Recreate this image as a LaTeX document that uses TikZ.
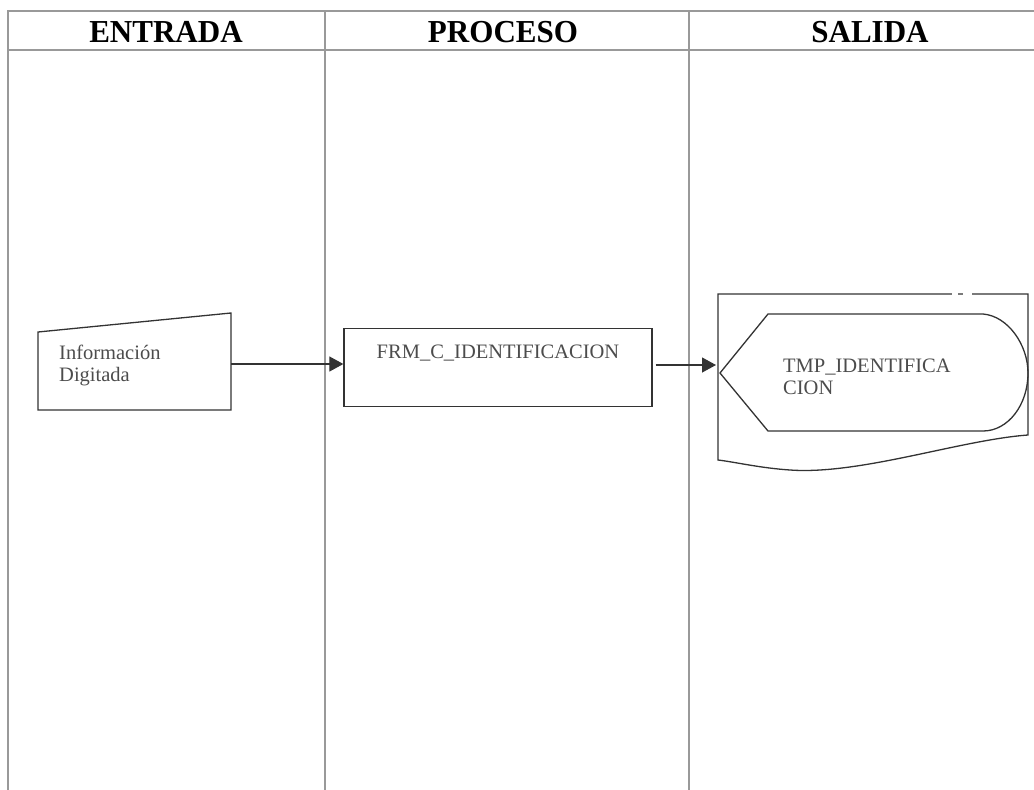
\documentclass[tikz,border=0pt]{standalone}
\usepackage{fontspec}
\setmainfont{Liberation Serif}
\usetikzlibrary{arrows.meta}
\begin{document}
\begin{tikzpicture}[x=1pt,y=-1pt,
  grid/.style={draw=black!40, line width=1.1pt},
  shapeline/.style={draw=black!80, line width=1.3pt},
  head/.style={font=\fontsize{32}{34}\selectfont\bfseries, text=black, inner sep=0pt},
  lbl/.style={font=\fontsize{20.5}{22}\selectfont, text=black!70, inner sep=0pt, align=left},
  conn/.style={draw=black!80, line width=1.2pt, -{Triangle[length=14pt,width=15pt]}}
]
\useasboundingbox (0,0) rectangle (1034,790);
% swimlane frame
\draw[grid] (1034,11) -- (8,11) -- (8,790);
\draw[grid] (8,50) -- (1034,50);
\draw[grid] (325,11) -- (325,790);
\draw[grid] (689,11) -- (689,790);
\node[head] (h1) at (166,32) {\scalebox{0.97}[1]{ENTRADA}};
\node[head] (h2) at (503,32) {\scalebox{0.97}[1]{PROCESO}};
\node[head] (h3) at (870,32) {\scalebox{0.97}[1]{SALIDA}};
% manual input
\draw[shapeline] (38,332) -- (231,313) -- (231,410) -- (38,410) -- cycle;
\coordinate (inR) at (231,364);
\node[lbl, anchor=west] (intext) at (59,365) {Información\\Digitada};
% process box
\node[shapeline, minimum width=308pt, minimum height=78pt, inner sep=0pt] (frm) at (498,367.5) {};
\node[lbl] (frmtext) at (498,353) {FRM\_C\_IDENTIFICACION};
% document + display
\draw[shapeline] (718,294) -- (1028,294) -- (1028,435)
  .. controls (960,440) and (860,475) .. (790,470)
  .. controls (760,468) and (735,462) .. (718,460) -- cycle;
\draw[white, line width=3pt] (952,294) -- (958,294) (963,294) -- (972,294);
\draw[shapeline] (720,373) -- (768,314) -- (983,314)
  .. controls (1008,316) and (1028,345) .. (1028,373)
  .. controls (1028,405) and (1008,431) .. (983,431) -- (768,431) -- cycle;
\coordinate (disp) at (716,365);
\node[lbl, anchor=west] (tmptext) at (783,377) {TMP\_IDENTIFICA\\CION};
% connectors
\draw[conn] (inR) -- (frm.west |- inR);
\draw[conn] (frm.east |- disp) ++(3,0) coordinate (frmR) (frmR) -- (disp);
\end{tikzpicture}
\end{document}
